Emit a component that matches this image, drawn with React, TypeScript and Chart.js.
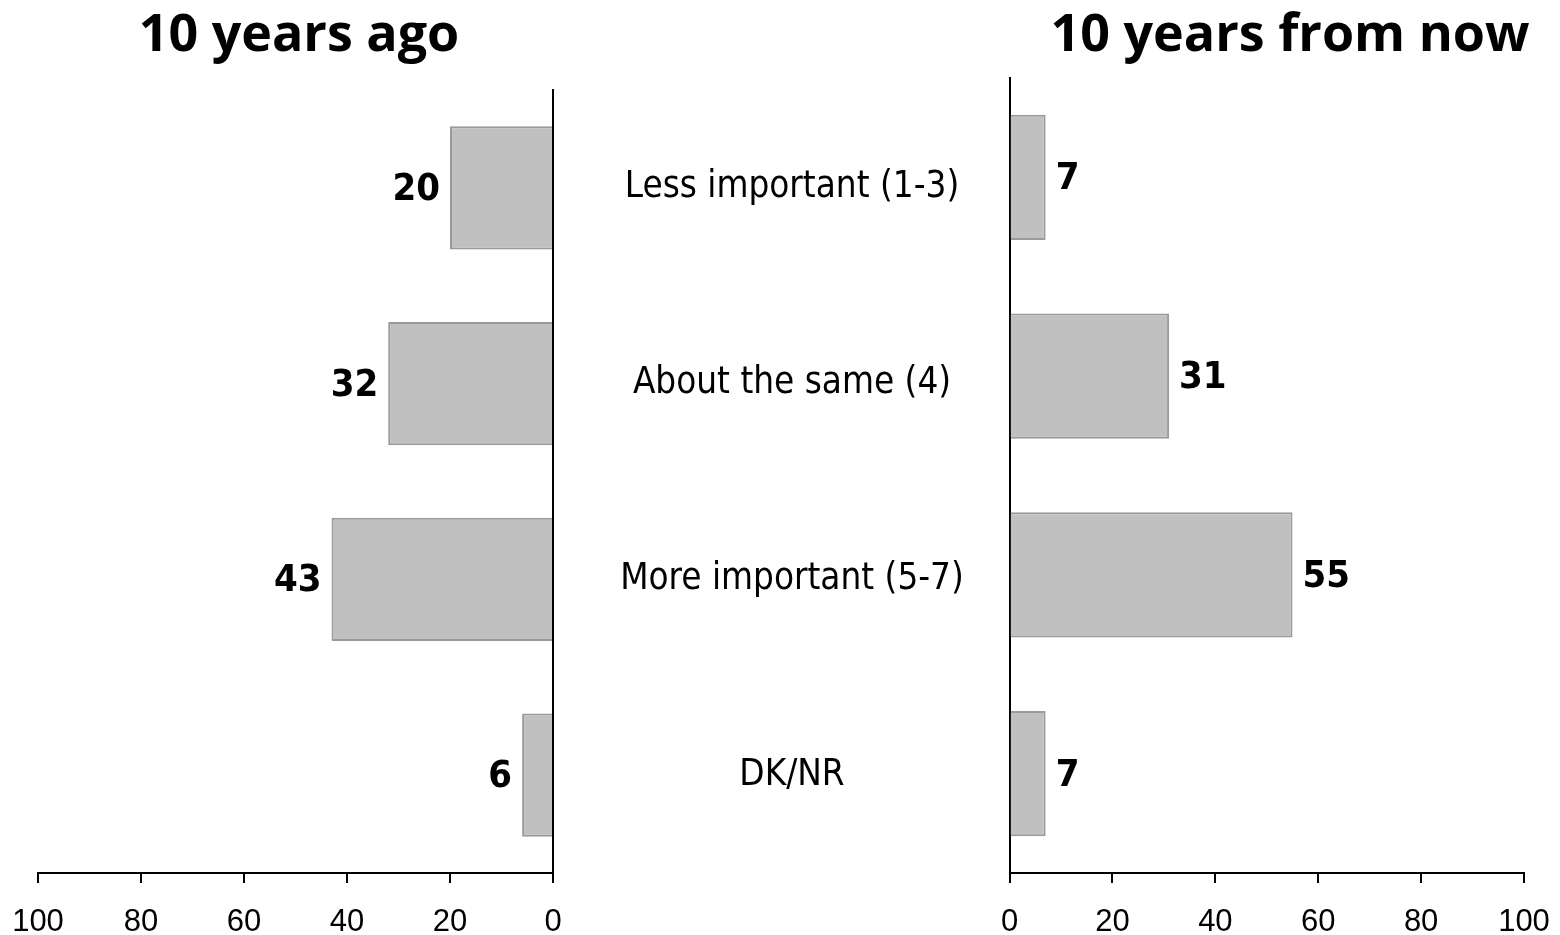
import React, { useEffect, useRef } from 'react';
import { Chart, registerables } from 'chart.js';

Chart.register(...registerables);

const categories = ['Less important (1-3)', 'About the same (4)', 'More important (5-7)', 'DK/NR'];
const tenYearsAgo = [20, 32, 43, 6];
const tenYearsFromNow = [7, 31, 55, 7];
const tickValues = [0, 20, 40, 60, 80, 100];
const leftTitle = '10 years ago';
const rightTitle = '10 years from now';

const TITLE_FONT = 'bold 52px "Open Sans", "DejaVu Sans", sans-serif';
const VALUE_FONT = 'bold 38px "DejaVu Sans Condensed", "DejaVu Sans", sans-serif';
const CAT_FONT = '36.5px "DejaVu Sans Condensed", "DejaVu Sans", sans-serif';

function valueLabelPlugin(side: 'left' | 'right') {
  return {
    id: 'valueLabels',
    afterDatasetsDraw(chart: any) {
      const ctx = chart.ctx;
      const meta = chart.getDatasetMeta(0);
      const data = chart.data.datasets[0].data as number[];
      ctx.save();
      ctx.font = VALUE_FONT;
      ctx.fillStyle = '#000';
      ctx.textBaseline = 'middle';
      meta.data.forEach((el: any, i: number) => {
        const { x, y } = el.getProps(['x', 'y'], true);
        if (side === 'left') {
          ctx.textAlign = 'right';
          ctx.fillText(String(data[i]), x - 10, y + 2);
        } else {
          ctx.textAlign = 'left';
          ctx.fillText(String(data[i]), x + 10, y + 2);
        }
      });
      ctx.restore();
    },
  };
}

function titlePlugin(text: string, cx: number) {
  return {
    id: 'sideTitle',
    afterDraw(chart: any) {
      const ctx = chart.ctx;
      ctx.save();
      ctx.font = TITLE_FONT;
      ctx.fillStyle = '#000';
      ctx.textAlign = 'center';
      ctx.textBaseline = 'alphabetic';
      ctx.fillText(text, cx, 51);
      ctx.restore();
    },
  };
}

const categoryLabelPlugin = {
  id: 'categoryLabels',
  afterDraw(chart: any) {
    const ctx = chart.ctx;
    const yScale = chart.scales.y;
    ctx.save();
    ctx.font = CAT_FONT;
    ctx.fillStyle = '#000';
    ctx.textAlign = 'center';
    ctx.textBaseline = 'middle';
    categories.forEach((c, i) => {
      ctx.fillText(c, 792, yScale.getPixelForValue(i));
    });
    ctx.restore();
  },
};

function makeOptions(reverse: boolean, padding: any, yPos: 'left' | 'right') {
  return {
    indexAxis: 'y' as const,
    responsive: false,
    animation: false as const,
    layout: { padding },
    plugins: {
      legend: { display: false },
      tooltip: { enabled: false },
      title: { display: false },
    },
    scales: {
      x: {
        type: 'linear' as const,
        min: 0,
        max: 100,
        reverse,
        position: 'bottom' as const,
        afterBuildTicks: (scale: any) => {
          scale.ticks = tickValues.map((v) => ({ value: v }));
        },
        afterFit: (scale: any) => {
          scale.height = 62;
        },
        ticks: {
          color: '#000',
          padding: 21,
          maxRotation: 0,
          autoSkip: false,
          font: { family: '"Liberation Sans", Arial, sans-serif', size: 31 },
        },
        grid: {
          display: true,
          drawOnChartArea: false,
          drawTicks: true,
          tickLength: 10,
          color: '#000',
          lineWidth: 2,
        },
        border: { display: true, color: '#000', width: 2 },
      },
      y: {
        type: 'category' as const,
        position: yPos,
        afterFit: (scale: any) => {
          scale.width = 0;
        },
        ticks: { display: false },
        grid: { display: false },
        border: { display: true, color: '#000', width: 2 },
      },
    },
  };
}

export default function App() {
  const leftRef = useRef<HTMLCanvasElement>(null);
  const rightRef = useRef<HTMLCanvasElement>(null);

  useEffect(() => {
    const left = new Chart(leftRef.current as HTMLCanvasElement, {
      type: 'bar',
      data: {
        labels: categories,
        datasets: [
          {
            data: tenYearsAgo,
            backgroundColor: '#c0c0c0',
            borderColor: '#9a9a9a',
            borderWidth: 2,
            barPercentage: 0.63,
            categoryPercentage: 1,
          },
        ],
      },
      options: makeOptions(true, { left: 38, right: 427, top: 90, bottom: 0 }, 'right') as any,
      plugins: [valueLabelPlugin('left'), categoryLabelPlugin, titlePlugin(leftTitle, 299)],
    });
    const right = new Chart(rightRef.current as HTMLCanvasElement, {
      type: 'bar',
      data: {
        labels: categories,
        datasets: [
          {
            data: tenYearsFromNow,
            backgroundColor: '#c0c0c0',
            borderColor: '#9a9a9a',
            borderWidth: 2,
            barPercentage: 0.63,
            categoryPercentage: 1,
          },
        ],
      },
      options: makeOptions(false, { left: 29, right: 56, top: 78, bottom: 0 }, 'left') as any,
      plugins: [valueLabelPlugin('right'), titlePlugin(rightTitle, 1290 - 980)],
    });
    return () => {
      left.destroy();
      right.destroy();
    };
  }, []);

  return (
    <div style={{ position: 'absolute', left: 0, top: 0, width: 1560, height: 935, background: '#fff', overflow: 'hidden' }}>
      <canvas
        ref={leftRef}
        width={980}
        height={935}
        style={{ position: 'absolute', left: 0, top: 0, width: 980, height: 935 }}
      />
      <canvas
        ref={rightRef}
        width={600}
        height={935}
        style={{ position: 'absolute', left: 980, top: 0, width: 600, height: 935 }}
      />
    </div>
  );
}
